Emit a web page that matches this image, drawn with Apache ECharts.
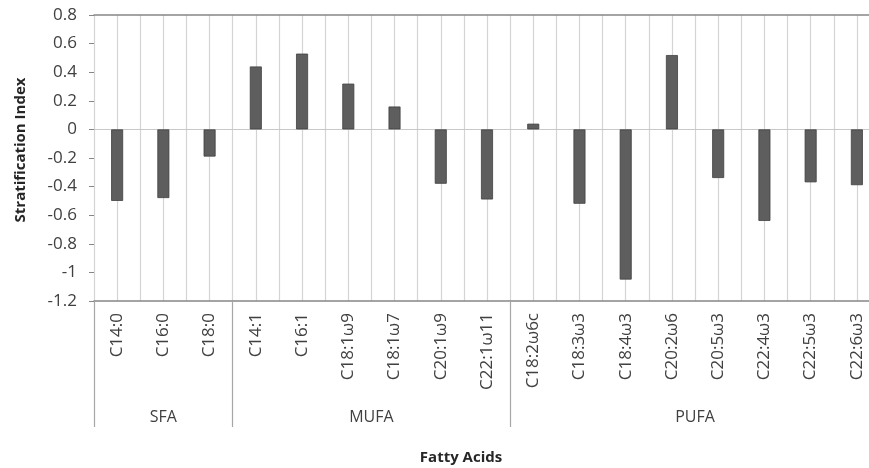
<!DOCTYPE html>
<html>
<head>
<meta charset="utf-8">
<script src="https://cdn.jsdelivr.net/npm/echarts@6/dist/echarts.min.js"></script>
<style>
  html, body { margin: 0; padding: 0; background: #fff; }
  #main { width: 869px; height: 468px; }
</style>
</head>
<body>
<div id="main"></div>
<script>
// fatty acids, in plot order
const acids = [
  "C14:0", "C16:0", "C18:0",
  "C14:1", "C16:1", "C18:1ω9", "C18:1ω7", "C20:1ω9", "C22:1ω11",
  "C18:2ω6c", "C18:3ω3", "C18:4ω3", "C20:2ω6", "C20:5ω3", "C22:4ω3", "C22:5ω3", "C22:6ω3"
];
// stratification index
const stratIndex = [
  -0.50, -0.48, -0.19,
  0.44, 0.53, 0.32, 0.16, -0.38, -0.49,
  0.04, -0.52, -1.05, 0.52, -0.34, -0.64, -0.37, -0.39
];
// groups: name and how many acids each holds
const groupNames = ["SFA", "MUFA", "PUFA"];
const groupSizes = [3, 6, 8];
const yTicks = { min: -1.2, max: 0.8, step: 0.2 };

// group edges / centres in category units
const groupEdges = [0];
const groupMids = [];
groupSizes.forEach((n) => {
  const start = groupEdges[groupEdges.length - 1];
  groupMids.push(start + n / 2);
  groupEdges.push(start + n);
});

const font = "'Open Sans', 'Noto Sans', sans-serif";
const chart = echarts.init(document.getElementById("main"));

const option = {
  animation: false,
  textStyle: { fontFamily: font },
  // plot runs past the right edge like the cropped original
  grid: {
    left: 94,
    top: 15,
    width: 786,
    height: 286,
    containLabel: false,
    outerBoundsMode: "none"
  },
  xAxis: [
    {
      type: "category",
      data: acids,
      position: "bottom",
      axisLine: { onZero: false, lineStyle: { color: "#868686", width: 1.5 } },
      axisTick: { show: false },
      axisLabel: {
        rotate: 90,
        interval: 0,
        margin: 12,
        fontSize: 17,
        color: "#404040",
        fontFamily: font
      },
      splitLine: { show: false }
    },
    {
      // gridlines at every half category
      type: "value",
      min: 0,
      max: acids.length,
      interval: 0.5,
      axisLine: { show: false, onZero: false },
      axisTick: { show: false },
      axisLabel: { show: false },
      splitLine: { show: true, lineStyle: { color: "#d4d4d4", width: 1.2 } }
    },
    {
      // group separators and labels below the acids
      type: "value",
      position: "bottom",
      offset: 126,
      min: 0,
      max: acids.length,
      axisLine: { show: false, onZero: false },
      axisTick: {
        show: true,
        inside: true,
        length: 126,
        customValues: groupEdges,
        lineStyle: { color: "#a6a6a6", width: 1.2 }
      },
      axisLabel: {
        inside: true,
        margin: 2,
        fontSize: 16,
        color: "#404040",
        customValues: groupMids,
        formatter: (v) => groupNames[groupMids.indexOf(v)] || ""
      },
      splitLine: { show: false },
      name: "Fatty Acids",
      nameLocation: "middle",
      nameGap: 23,
      nameTextStyle: {
        fontWeight: "bold",
        fontSize: 15,
        color: "#262626",
        padding: [0, 52, 0, 0]
      }
    },
    {
      // top frame line at 0.8
      type: "value",
      position: "top",
      min: 0,
      max: acids.length,
      axisLine: { show: true, onZero: false, lineStyle: { color: "#868686", width: 1.5 } },
      axisTick: { show: false },
      axisLabel: { show: false },
      splitLine: { show: false }
    }
  ],
  yAxis: {
    type: "value",
    min: yTicks.min,
    max: yTicks.max,
    interval: yTicks.step,
    axisLine: { show: false },
    axisTick: { show: true, length: 5, lineStyle: { color: "#868686" } },
    axisLabel: { margin: 17, fontSize: 17, color: "#404040", fontFamily: font },
    splitLine: { show: false },
    name: "Stratification Index",
    nameLocation: "middle",
    nameGap: 66,
    nameTextStyle: {
      fontWeight: "bold",
      fontSize: 15,
      color: "#262626",
      padding: [0, 0, 0, 16]
    }
  },
  series: [
    {
      type: "bar",
      xAxisIndex: 0,
      data: stratIndex,
      barWidth: 12,
      itemStyle: { color: "#5e5e5e", borderColor: "#404040", borderWidth: 0.8 },
      markLine: {
        silent: true,
        symbol: "none",
        label: { show: false },
        lineStyle: { color: "#c8c8c8", type: "solid", width: 1.2 },
        data: [{ yAxis: 0 }],
        z: 1
      }
    }
  ]
};

chart.setOption(option);
</script>
</body>
</html>
